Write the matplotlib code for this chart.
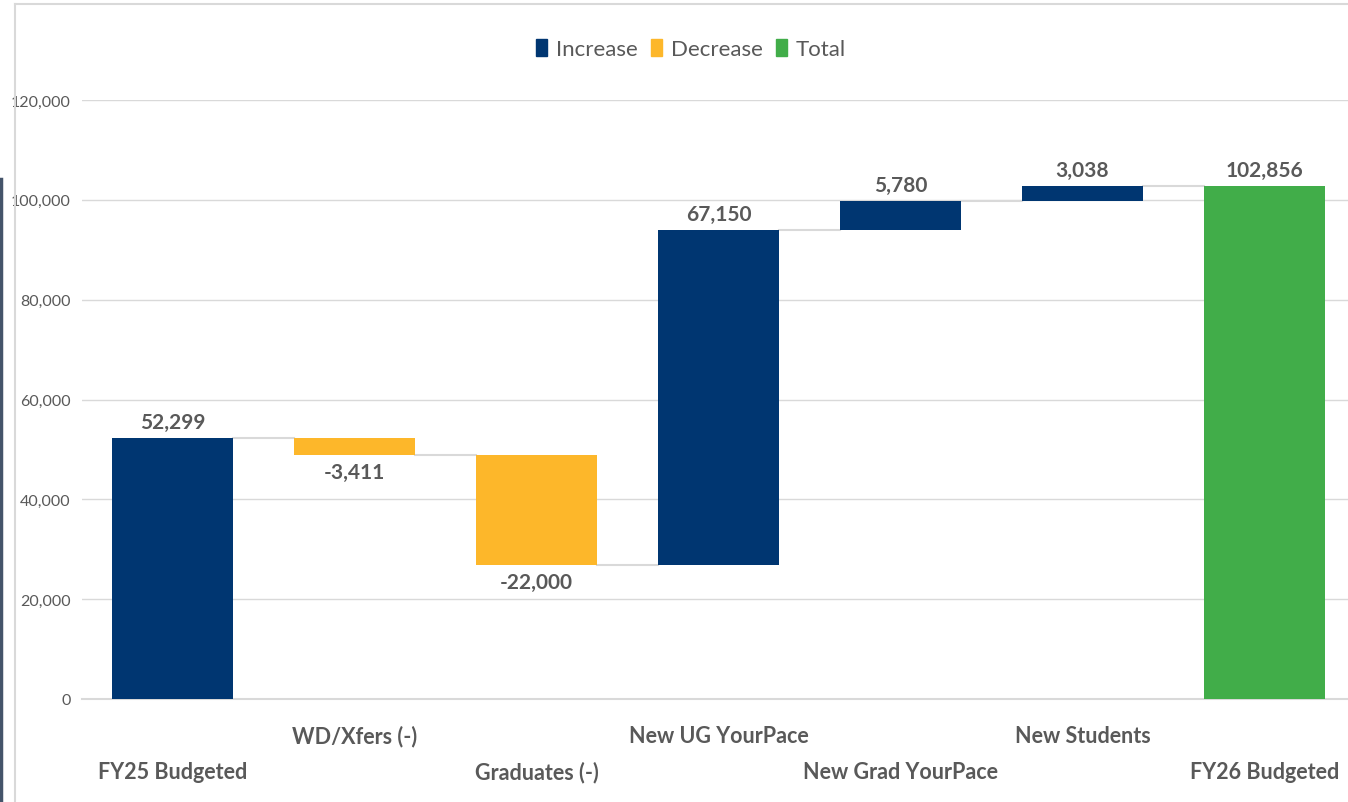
import numpy as np
import matplotlib.pyplot as plt
from matplotlib.patches import Patch
from matplotlib.lines import Line2D
from matplotlib.ticker import FuncFormatter

categories = ['FY25 Budgeted', 'WD/Xfers (-)', 'Graduates (-)', 'New UG YourPace',
              'New Grad YourPace', 'New Students', 'FY26 Budgeted']
changes = [52299, -3411, -22000, 67150, 5780, 3038, 102856]
kinds = ['increase', 'decrease', 'decrease', 'increase', 'increase', 'increase', 'total']

colores = {'increase': '#003671', 'decrease': '#FDB72A', 'total': '#41AD49'}
texto = '#595959'
grade = '#d9d9d9'

plt.rcParams['font.family'] = ['Lato', 'DejaVu Sans']

fig = plt.figure(figsize=(13.48, 8.03), dpi=100)
ax = fig.add_axes([81.5 / 1348, (803 - 700) / 803, 1 - 81.5 / 1348, 599 / 803])

# bases e alturas da cascata
bases = []
alturas = []
acumulado = 0
for v, k in zip(changes, kinds):
    if k == 'total':
        bases.append(0)
        alturas.append(v)
        acumulado = v
    elif v >= 0:
        bases.append(acumulado)
        alturas.append(v)
        acumulado += v
    else:
        bases.append(acumulado + v)
        alturas.append(-v)
        acumulado += v

x = np.arange(len(categories))
largura = 0.665
ax.bar(x, alturas, bottom=bases, width=largura,
       color=[colores[k] for k in kinds], zorder=3)

# linhas de ligacao entre barras
nivel = 0
for i, (v, k) in enumerate(zip(changes, kinds)):
    nivel = v if k == 'total' else nivel + v
    if i < len(changes) - 1:
        ax.plot([i + largura / 2, i + 1 - largura / 2], [nivel, nivel],
                color=grade, lw=1.5, zorder=2)

# rotulos de valor
for i, (v, k) in enumerate(zip(changes, kinds)):
    if v >= 0:
        ax.annotate(f'{v:,}', (i, bases[i] + alturas[i]), xytext=(0, 4),
                    textcoords='offset points', ha='center', va='bottom',
                    fontsize=15, fontweight='bold', color=texto)
    else:
        ax.annotate(f'{v:,}', (i, bases[i]), xytext=(0, -5),
                    textcoords='offset points', ha='center', va='top',
                    fontsize=15, fontweight='bold', color=texto)

ax.set_xlim(-0.5, 6.5 - 7.5 / 182)
ax.set_ylim(0, 120000)
ax.set_yticks(np.arange(0, 120001, 20000))
ax.yaxis.set_major_formatter(FuncFormatter(lambda v, p: f'{int(v):,}'))
ax.tick_params(axis='y', length=0, pad=8, labelsize=11.5, labelcolor=texto)
ax.grid(axis='y', color=grade, lw=1, zorder=0)
for lado in ['top', 'right', 'left']:
    ax.spines[lado].set_visible(False)
ax.spines['bottom'].set_color(grade)
ax.spines['bottom'].set_linewidth(1.5)

# categorias em duas linhas alternadas
ax.set_xticks(x)
ax.set_xticklabels([])
ax.tick_params(axis='x', length=0)
for i, c in enumerate(categories):
    dy = -37 if i % 2 == 1 else -73
    ax.annotate(c, (i, 0), xytext=(0, dy), textcoords='offset pixels',
                ha='center', va='center', fontsize=15.5, fontweight='bold',
                color=texto, annotation_clip=False)

handles = [Patch(color=colores['increase'], label='Increase'),
           Patch(color=colores['decrease'], label='Decrease'),
           Patch(color=colores['total'], label='Total')]
leg = fig.legend(handles=handles, loc='center', bbox_to_anchor=(691 / 1348, 1 - 50 / 803),
                 ncol=3, frameon=False, fontsize=16, handlelength=0.5, handleheight=0.8,
                 handletextpad=0.4, columnspacing=0.6)
for t in leg.get_texts():
    t.set_color(texto)

# moldura
fig.add_artist(Line2D([15 / 1348, 1], [1 - 5 / 803] * 2, color='#d9d9d9', lw=1.5))
fig.add_artist(Line2D([15 / 1348] * 2, [0, 1 - 5 / 803], color='#d9d9d9', lw=1.5))
fig.add_artist(Line2D([1 / 1348] * 2, [0, 1 - 180 / 803], color='#44546a', lw=2.5))

fig.savefig('out.png', dpi=100)
